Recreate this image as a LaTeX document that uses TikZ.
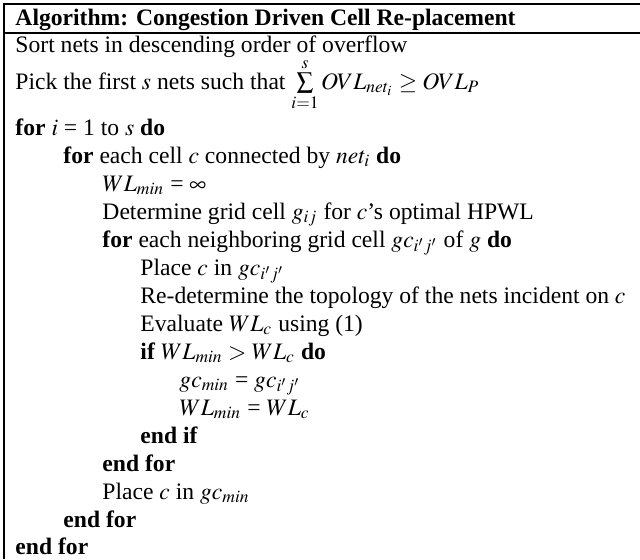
\documentclass[tikz,border=0pt]{standalone}
\usepackage{mathptmx}
\usepackage[no-math]{fontspec}
\setmainfont{Liberation Serif}
\begin{document}
\begin{tikzpicture}[x=0.4237pt,y=-0.4237pt,
  ln/.style={anchor=base west, inner sep=0pt, font=\fontsize{10}{12}\selectfont},
  rule/.style={line width=0.85pt}]
\useasboundingbox (0,0) rectangle (640,559);
% frame
\draw[rule] (3,4) -- (640,4);
\draw[rule] (4,4) -- (4,559);
\draw[rule] (4,33) -- (640,33);
% text
\node[ln] (hdr) at (15,25) {\textbf{Algorithm: Congestion Driven Cell Re-placement}};
\node[ln] (l1) at (15,52) {Sort nets in descending order of overflow};
\node[ln] (l2) at (15,89) {Pick the first $s$ nets such that $\sum\limits_{i=1}^{s} OVL_{net_i} \geq OVL_P$};
\node[ln] (l3) at (15,135) {\textbf{for} $i$ = 1 to $s$ \textbf{do}};
\node[ln] (l4) at (63,163) {\textbf{for} each cell $c$ connected by $net_i$ \textbf{do}};
\node[ln] (l5) at (102,191) {$WL_{min}$ = $\infty$};
\node[ln] (l6) at (102,219) {Determine grid cell $g_{ij}$ for $c$'s optimal HPWL};
\node[ln] (l7) at (102,247) {\textbf{for} each neighboring grid cell $gc_{i'j'}$ of $g$ \textbf{do}};
\node[ln] (l8) at (140,275) {Place $c$ in $gc_{i'j'}$};
\node[ln] (l9) at (140,303) {Re-determine the topology of the nets incident on $c$};
\node[ln] (l10) at (140,331) {Evaluate $WL_c$ using (1)};
\node[ln] (l11) at (140,359) {\textbf{if} $WL_{min} > WL_c$ \textbf{do}};
\node[ln] (l12) at (179,387) {$gc_{min}$ = $gc_{i'j'}$};
\node[ln] (l13) at (179,415) {$WL_{min}$ = $WL_c$};
\node[ln] (l14) at (140,443) {\textbf{end if}};
\node[ln] (l15) at (102,471) {\textbf{end for}};
\node[ln] (l16) at (102,499) {Place $c$ in $gc_{min}$};
\node[ln] (l17) at (63,527) {\textbf{end for}};
\node[ln] (l18) at (15,554) {\textbf{end for}};
\end{tikzpicture}
\end{document}
